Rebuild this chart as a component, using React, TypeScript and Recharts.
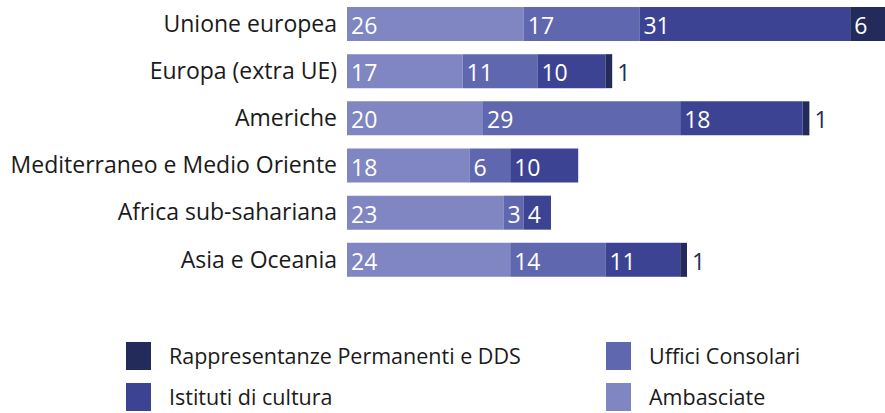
import { Bar, BarChart, LabelList, XAxis, YAxis } from "recharts";

const categories = [
  "Unione europea",
  "Europa (extra UE)",
  "Americhe",
  "Mediterraneo e Medio Oriente",
  "Africa sub-sahariana",
  "Asia e Oceania",
];
const ambasciate = [26, 17, 20, 18, 23, 24];
const ufficiConsolari = [17, 11, 29, 6, 3, 14];
const istitutiCultura = [31, 10, 18, 10, 4, 11];
const rappresentanze = [6, 1, 1, 0, 0, 1];

const series = [
  { key: "ambasciate", name: "Ambasciate", color: "#7f86c2" },
  { key: "uffici", name: "Uffici Consolari", color: "#5f68ae" },
  { key: "istituti", name: "Istituti di cultura", color: "#3c4392" },
  { key: "rappresentanze", name: "Rappresentanze Permanenti e DDS", color: "#232b5a" },
];

const data = categories.map((name, i) => ({
  name,
  ambasciate: ambasciate[i],
  uffici: ufficiConsolari[i],
  istituti: istitutiCultura[i],
  rappresentanze: rappresentanze[i],
}));

const FONT = "'Open Sans', sans-serif";

function ValueLabel(props: any) {
  const { x, y, width, height, value } = props;
  if (!value) return null;
  const outside = width < 12;
  return (
    <text
      x={outside ? x + width + 5 : x + 4}
      y={y + height / 2 + 1}
      fill={outside ? "#232b5a" : "#ffffff"}
      fontSize={23}
      fontFamily={FONT}
      dominantBaseline="central"
    >
      {value}
    </text>
  );
}

// legend laid out in two columns like the original
const legendItems = [
  { ...series[3], left: 126, top: 342 },
  { ...series[2], left: 126, top: 383 },
  { ...series[1], left: 606, top: 342 },
  { ...series[0], left: 606, top: 383 },
];

export default function App() {
  return (
    <div
      style={{
        position: "absolute",
        left: 0,
        top: 0,
        width: 885,
        height: 413,
        overflow: "hidden",
        background: "#fff",
        fontFamily: FONT,
      }}
    >
      <BarChart
        layout="vertical"
        width={891}
        height={283}
        data={data}
        margin={{ top: 0, right: 0, bottom: 0, left: 0 }}
        barSize={34}
      >
        <XAxis type="number" domain={[0, 80]} hide />
        <YAxis
          type="category"
          dataKey="name"
          width={347}
          tickLine={false}
          axisLine={false}
          tickMargin={4}
          tick={{ fontSize: 23, fill: "#1a1a1a", fontFamily: FONT }}
        />
        {series.map((s) => (
          <Bar key={s.key} dataKey={s.key} name={s.name} stackId="a" fill={s.color} isAnimationActive={false}>
            <LabelList dataKey={s.key} content={ValueLabel} />
          </Bar>
        ))}
      </BarChart>
      {legendItems.map((it) => (
        <div key={it.key}>
          <div
            style={{
              position: "absolute",
              left: it.left,
              top: it.top,
              width: 25,
              height: 28,
              background: it.color,
            }}
          />
          <div
            style={{
              position: "absolute",
              left: it.left + 43,
              top: it.top,
              height: 28,
              lineHeight: "28px",
              fontSize: 21.5,
              color: "#1a1a1a",
              whiteSpace: "nowrap",
            }}
          >
            {it.name}
          </div>
        </div>
      ))}
    </div>
  );
}
